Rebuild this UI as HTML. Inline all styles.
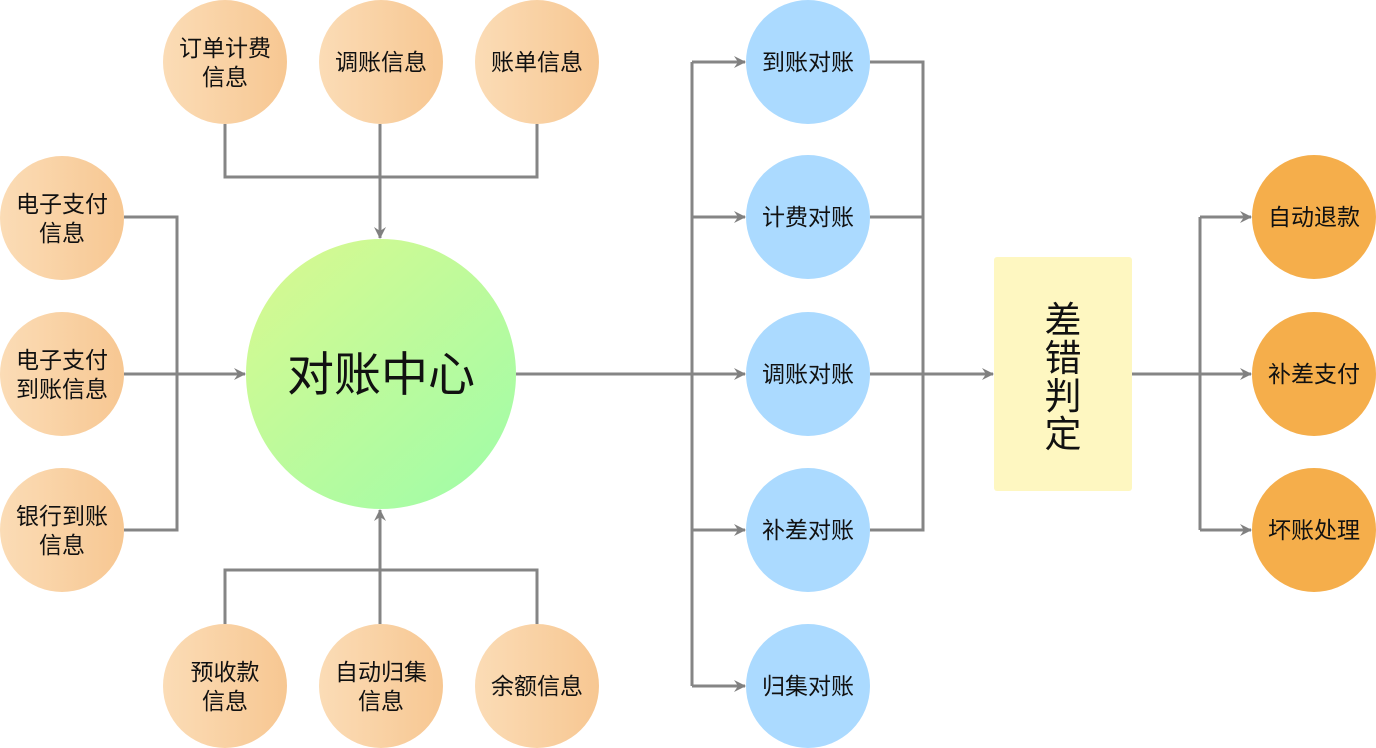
<!DOCTYPE html>
<html><head><meta charset="utf-8"><style>
html,body{margin:0;padding:0;background:#fff;}
svg{display:block;}
text{font-family:"Liberation Sans","Noto Sans CJK SC",sans-serif;fill:#111;text-anchor:middle;}
</style></head><body>
<svg width="1376" height="748" viewBox="0 0 1376 748" xmlns="http://www.w3.org/2000/svg">
<defs>
<linearGradient id="pe" x1="0" y1="0" x2="1" y2="0"><stop offset="0" stop-color="#fbdcb6"/><stop offset="1" stop-color="#f7c792"/></linearGradient>
<linearGradient id="gr" x1="0.15" y1="0.1" x2="0.85" y2="0.9"><stop offset="0" stop-color="#d3f992"/><stop offset="1" stop-color="#a5fca6"/></linearGradient>
<marker id="ar" markerWidth="12" markerHeight="12" refX="11" refY="6" orient="auto" markerUnits="userSpaceOnUse"><path d="M0,0 L12,6 L0,12 L4,6 Z" fill="#808080"/></marker>
</defs>
<g stroke="#858585" stroke-width="3" fill="none">
<path d="M225,124 V177 H537 V124"/><path d="M380,124 V238" marker-end="url(#ar)"/>
<path d="M225,624 V570 H537 V624"/><path d="M380,624 V510" marker-end="url(#ar)"/>
<path d="M124,217 H177 V530 H124"/><path d="M124,374 H245" marker-end="url(#ar)"/>
<path d="M516,374 H692"/><path d="M692,62 V686"/>
<path d="M692,62 H745" marker-end="url(#ar)"/><path d="M692,217 H745" marker-end="url(#ar)"/><path d="M692,374 H745" marker-end="url(#ar)"/><path d="M692,530 H745" marker-end="url(#ar)"/><path d="M692,686 H745" marker-end="url(#ar)"/>
<path d="M870,62 H923 V530 H870"/><path d="M870,217 H923"/><path d="M870,374 H993" marker-end="url(#ar)"/>
<path d="M1132,374 H1251" marker-end="url(#ar)"/><path d="M1200,217 V530"/>
<path d="M1200,217 H1251" marker-end="url(#ar)"/><path d="M1200,530 H1251" marker-end="url(#ar)"/>
</g>
<g fill="url(#pe)">
<circle cx="225" cy="62" r="62"/><circle cx="381" cy="62" r="62"/><circle cx="537" cy="62" r="62"/>
<circle cx="62" cy="218" r="62"/><circle cx="62" cy="374" r="62"/><circle cx="62" cy="530" r="62"/>
<circle cx="225" cy="686" r="62"/><circle cx="381" cy="686" r="62"/><circle cx="537" cy="686" r="62"/>
</g>
<circle cx="381" cy="374" r="135" fill="url(#gr)"/>
<g fill="#abdaff">
<circle cx="808" cy="62" r="62"/><circle cx="808" cy="217" r="62"/><circle cx="808" cy="374" r="62"/><circle cx="808" cy="530" r="62"/><circle cx="808" cy="686" r="62"/>
</g>
<g fill="#f5ae4b">
<circle cx="1314" cy="217" r="62"/><circle cx="1314" cy="374" r="62"/><circle cx="1314" cy="530" r="62"/>
</g>
<rect x="994" y="257" width="138" height="234" rx="3" fill="#fef7c1"/>
<g font-size="23">
<text x="225" y="56">订单计费</text><text x="225" y="85">信息</text>
<text x="381" y="70">调账信息</text>
<text x="537" y="70">账单信息</text>
<text x="62" y="212">电子支付</text><text x="62" y="241">信息</text>
<text x="62" y="368">电子支付</text><text x="62" y="397">到账信息</text>
<text x="62" y="524">银行到账</text><text x="62" y="553">信息</text>
<text x="225" y="680">预收款</text><text x="225" y="709">信息</text>
<text x="381" y="680">自动归集</text><text x="381" y="709">信息</text>
<text x="537" y="694">余额信息</text>
<text x="808" y="70">到账对账</text><text x="808" y="225">计费对账</text><text x="808" y="382">调账对账</text><text x="808" y="538">补差对账</text><text x="808" y="694">归集对账</text>
<text x="1314" y="225">自动退款</text><text x="1314" y="382">补差支付</text><text x="1314" y="538">坏账处理</text>
</g>
<text x="381" y="391" font-size="47">对账中心</text>
<g font-size="37">
<text x="1063" y="333">差</text><text x="1063" y="371">错</text><text x="1063" y="409">判</text><text x="1063" y="447">定</text>
</g>
</svg>
</body></html>
